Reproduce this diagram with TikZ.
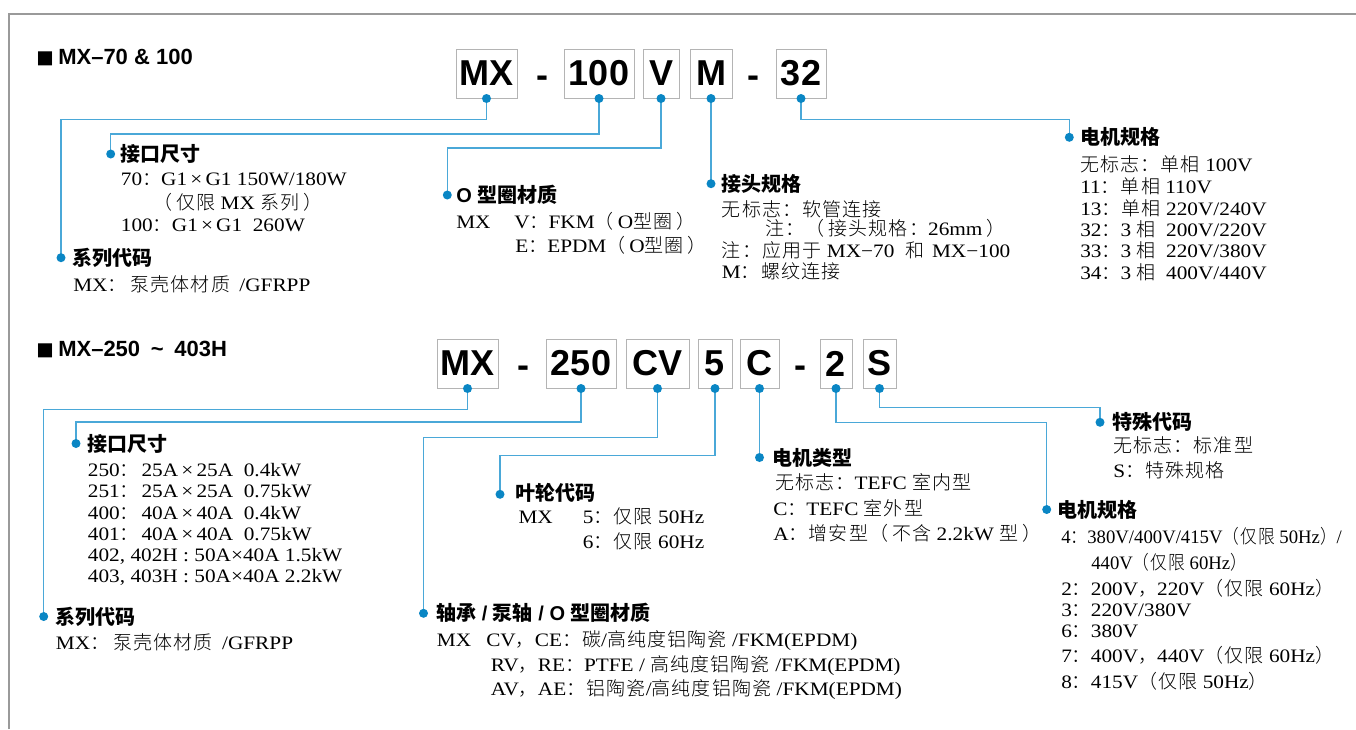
\documentclass[tikz,border=0pt]{standalone}
\usepackage{fontspec}
\usepackage{graphicx}
\setmainfont{Liberation Serif}[FakeStretch=1.12]
\newfontfamily\hv{Liberation Sans}
\newfontfamily\zh{Noto Sans CJK SC Light}[LetterSpace=6]
\newfontfamily\zhh{Noto Sans CJK SC}
\newcommand\z[1]{{\zh #1}}
\newcommand\sq{\raisebox{-2.4pt}{\fontsize{21.75}{22}\selectfont ■}}
\newcommand\tm{\,×\,}
\newcommand\lp{\z{（}\hspace{3pt}}
\newcommand\rp{\hspace{3pt}\z{）}}
\definecolor{dotblue}{HTML}{0A86C4}
\definecolor{lineblue}{HTML}{4AA8D8}
\definecolor{boxgray}{HTML}{B4B4B4}
\definecolor{framegray}{HTML}{9A9A9A}
\tikzset{
 codebox/.style={draw=boxgray, line width=0.75pt, fill=white, inner sep=0pt, minimum height=36.75pt, font=\hv\bfseries\fontsize{27}{27}\selectfont},
 sepdash/.style={anchor=base, inner sep=0pt, font=\hv\bfseries\fontsize{27}{27}\selectfont},
 dot/.style={circle, fill=dotblue, inner sep=0pt, minimum size=6.75pt},
 conn/.style={draw=lineblue, line width=1pt},
 head/.style={anchor=base west, inner sep=0pt, font=\let\zh\zhh\hv\bfseries\fontsize{15}{18}\selectfont},
 body/.style={anchor=base west, inner sep=0pt, font=\fontsize{14.25}{17}\selectfont},
 title/.style={anchor=base west, inner sep=0pt, font=\hv\bfseries\fontsize{16.5}{20}\selectfont},
}
\begin{document}
\begin{tikzpicture}[x=0.75pt,y=-0.75pt]
\useasboundingbox (0,0) rectangle (1356,729);
\draw[framegray, line width=1.5pt] (9.3,729) -- (9.3,13.5) -- (1356,13.5);

% ---------- top section ----------
\node[title] (t1) at (36.1,64) {\sq\hspace{3.3pt}MX–70 \& 100};
\node[codebox, minimum width=45.75pt] (a1) at (486.5,73.5) {MX};
\node[sepdash] (e1) at (542,87.3) {-};
\node[codebox, minimum width=52.5pt] (a2) at (599,73.5) {100};
\node[codebox, minimum width=27pt] (a3) at (661,73.5) {V};
\node[codebox, minimum width=31.5pt] (a4) at (711,73.5) {M};
\node[sepdash] (e2) at (753,87.3) {-};
\node[codebox, minimum width=37.5pt] (a5) at (801,73.5) {32};

\coordinate (s1) at (61,257.7);
\coordinate (p1) at (110.7,154);
\coordinate (o1) at (447.3,195);
\coordinate (j1) at (711,183.7);
\coordinate (m1) at (1069.3,137.3);

\draw[conn] (a1.south) -- (a1.south |- 0,119.3) -| (s1);
\draw[conn] (a2.south) -- (a2.south |- 0,134) -| (p1);
\draw[conn] (a3.south) -- (a3.south |- 0,148) -| (o1);
\draw[conn] (a4.south) -- (j1);
\draw[conn] (a5.south) -- (a5.south |- 0,119.3) -| (m1);

\foreach \n in {a1,a2,a3,a4,a5} {\node[dot] (\n d) at (\n.south) {};}
\foreach \n in {s1,p1,o1,j1,m1} {\node[dot] (\n d) at (\n) {};}

\node[head] (p1t) at (120,161.5) {\z{接口尺寸}};
\node[body] (p1a) at (120.7,185) {70\z{：}G1\tm G1 150W/180W};
\node[body] (p1b) at (153,209) {\lp\z{仅限} MX \z{系列}\rp};
\node[body] (p1c) at (120.7,231.7) {100\z{：}G1\tm G1\ \ 260W};
\node[head] (s1t) at (72.3,265) {\z{系列代码}};
\node[body] (s1a) at (73,291.5) {MX\z{：}\hspace{3pt}\z{泵壳体材质}\hspace{3pt} /GFRPP};
\node[head] (o1t) at (456,202.5) {O \z{型圈材质}};
\node[body] (o1a) at (456,228.3) {\makebox[43.5pt][l]{MX}V\z{：}FKM\lp O\z{型圈}\rp};
\node[body] (o1b) at (515,252.5) {E\z{：}EPDM\lp O\z{型圈}\rp};
\node[head] (j1t) at (721.7,191) {\z{接头规格}};
\node[body] (j1a) at (721.7,216.5) {\z{无标志：软管连接}};
\node[body] (j1b) at (765,235) {\z{注：}\lp\z{接头规格：}26mm\rp};
\node[body] (j1c) at (721.7,257.5) {\z{注：应用于} MX−70\hspace{8pt}\z{和}\hspace{2pt} MX−100};
\node[body] (j1e) at (721.7,278.3) {M\z{：螺纹连接}};
\node[head] (m1t) at (1080,144.8) {\z{电机规格}};
\node[body] (m1a) at (1080,171.7) {\z{无标志：单相} 100V};
\node[body] (m1b) at (1080,193.3) {11\z{：单相} 110V};
\node[body] (m1c) at (1080,215) {13\z{：单相} 220V/240V};
\node[body] (m1e) at (1080,236) {32\z{：}3 \z{相}\ \ 200V/220V};
\node[body] (m1f) at (1080,257.7) {33\z{：}3 \z{相}\ \ 220V/380V};
\node[body] (m1g) at (1080,279) {34\z{：}3 \z{相}\ \ 400V/440V};

% ---------- bottom section ----------
\node[title] (t2) at (36.1,356) {\sq\hspace{3.3pt}MX–250\hspace{8pt}\char"7E\hspace{8pt}403H};
\node[codebox, minimum width=45.75pt] (c1) at (467.5,363.5) {MX};
\node[sepdash] (f1) at (523,377.3) {-};
\node[codebox, minimum width=52.5pt] (c2) at (581,363.5) {250};
\node[codebox, minimum width=47.25pt] (c3) at (657.5,363.5) {CV};
\node[codebox, minimum width=25.5pt] (c4) at (715,363.5) {5};
\node[codebox, minimum width=29.25pt] (c5) at (759.5,363.5) {C};
\node[sepdash] (f2) at (800,377.3) {-};
\node[codebox, minimum width=24pt] (c6) at (836,363.5) {2};
\node[codebox, minimum width=24.75pt] (c7) at (879.5,363.5) {S};

\coordinate (s2) at (43.7,616.5);
\coordinate (p2) at (76,443.5);
\coordinate (b2) at (423.5,613.3);
\coordinate (i2) at (500,494.3);
\coordinate (k2) at (759.5,457.5);
\coordinate (m2) at (1046.7,509.5);
\coordinate (x2) at (1100,422.3);

\draw[conn] (c1.south) -- (c1.south |- 0,409.3) -| (s2);
\draw[conn] (c2.south) -- (c2.south |- 0,422) -| (p2);
\draw[conn] (c3.south) -- (c3.south |- 0,437.7) -| (b2);
\draw[conn] (c4.south) -- (c4.south |- 0,455.7) -| (i2);
\draw[conn] (c5.south) -- (k2);
\draw[conn] (c6.south) -- (c6.south |- 0,422.3) -| (m2);
\draw[conn] (c7.south) -- (c7.south |- 0,407.7) -| (x2);

\foreach \n in {c1,c2,c3,c4,c5,c6,c7} {\node[dot] (\n d) at (\n.south) {};}
\foreach \n in {s2,p2,b2,i2,k2,m2,x2} {\node[dot] (\n d) at (\n) {};}

\node[head] (p2t) at (87.7,451.5) {\z{接口尺寸}};
\node[body] (p2a) at (87.7,476.7) {250\z{：}\hspace{2pt}25A\tm 25A\ \ 0.4kW};
\node[body] (p2b) at (87.7,497.7) {251\z{：}\hspace{2pt}25A\tm 25A\ \ 0.75kW};
\node[body] (p2c) at (87.7,519.3) {400\z{：}\hspace{2pt}40A\tm 40A\ \ 0.4kW};
\node[body] (p2e) at (87.7,540.7) {401\z{：}\hspace{2pt}40A\tm 40A\ \ 0.75kW};
\node[body] (p2f) at (87.7,561.7) {402, 402H : 50A×40A 1.5kW};
\node[body] (p2g) at (87.7,582.7) {403, 403H : 50A×40A 2.2kW};
\node[head] (s2t) at (55.7,624) {\z{系列代码}};
\node[body] (s2a) at (55.7,649.3) {MX\z{：}\hspace{3pt}\z{泵壳体材质}\hspace{3pt} /GFRPP};
\node[head] (i2t) at (515,500.8) {\z{叶轮代码}};
\node[body] (i2a) at (518.3,523.3) {\makebox[48.3pt][l]{MX}5\z{：仅限} 50Hz};
\node[body] (i2b) at (582.7,548.3) {6\z{：仅限} 60Hz};
\node[head] (k2t) at (772.3,465.8) {\z{电机类型}};
\node[body] (k2a) at (775,489.3) {\z{无标志：}TEFC \z{室内型}};
\node[body] (k2b) at (773,515.7) {C\z{：}TEFC \z{室外型}};
\node[body] (k2c) at (773,540.7) {A\z{：增安型}\lp\z{不含} 2.2kW \z{型}\rp};
\node[head] (b2t) at (436,620.8) {\z{轴承} / \z{泵轴} / O \z{型圈材质}};
\node[body] (b2a) at (436.7,646.7) {\makebox[37pt][l]{MX}CV\z{，}CE\z{：碳}/\z{高纯度铝陶瓷} /FKM(EPDM)};
\node[body] (b2b) at (490.7,671) {RV\z{，}RE\z{：}PTFE / \z{高纯度铝陶瓷} /FKM(EPDM)};
\node[body] (b2c) at (490.7,695.7) {AV\z{，}AE\z{：铝陶瓷}/\z{高纯度铝陶瓷} /FKM(EPDM)};
\node[head] (x2t) at (1112.7,429.8) {\z{特殊代码}};
\node[body] (x2a) at (1113,452) {\z{无标志：标准型}};
\node[body] (x2b) at (1113,477.3) {S\z{：特殊规格}};
\node[head] (m2t) at (1057.7,517.5) {\z{电机规格}};
\node[body] (m2a) at (1061,543.3) {\scalebox{0.88}[1]{4\z{：}380V/400V/415V\z{（仅限} 50Hz\z{）}/}};
\node[body] (m2b) at (1091,569.3) {\scalebox{0.88}[1]{440V\z{（仅限} 60Hz\z{）}}};
\node[body] (m2c) at (1061,595) {2\z{：}200V\z{，}220V\z{（仅限} 60Hz\z{）}};
\node[body] (m2e) at (1061,616) {3\z{：}220V/380V};
\node[body] (m2f) at (1061,637.7) {6\z{：}380V};
\node[body] (m2g) at (1061,662.7) {7\z{：}400V\z{，}440V\z{（仅限} 60Hz\z{）}};
\node[body] (m2h) at (1061,688.3) {8\z{：}415V\z{（仅限} 50Hz\z{）}};
\end{tikzpicture}
\end{document}
